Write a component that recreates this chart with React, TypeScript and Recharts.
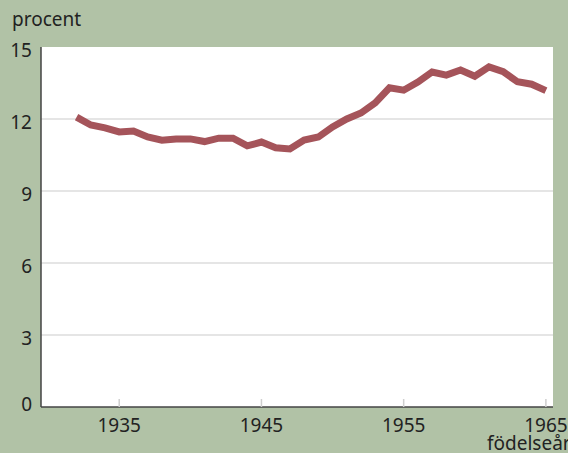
import { LineChart, Line, XAxis, YAxis, CartesianGrid, ReferenceLine } from 'recharts'

const years = [
  1932, 1933, 1934, 1935, 1936, 1937, 1938, 1939, 1940, 1941, 1942, 1943,
  1944, 1945, 1946, 1947, 1948, 1949, 1950, 1951, 1952, 1953, 1954, 1955,
  1956, 1957, 1958, 1959, 1960, 1961, 1962, 1963, 1964, 1965,
]
const procent = [
  12.08, 11.75, 11.63, 11.46, 11.5, 11.25, 11.12, 11.17, 11.17, 11.06, 11.2, 11.2,
  10.88, 11.04, 10.8, 10.75, 11.12, 11.25, 11.67, 12.0, 12.25, 12.67, 13.3, 13.2,
  13.54, 13.96, 13.83, 14.04, 13.78, 14.17, 13.97, 13.55, 13.45, 13.18,
]
const xTicks = [1935, 1945, 1955, 1965]
const yTicks = [0, 3, 6, 9, 12, 15]
const gridValues = [3, 6, 9, 12]

const data = years.map((year, i) => ({ year, value: procent[i] }))

const BG = '#b1c2a6'
const LINE = '#a5545a'
const TEXT = '#222'
const FONT = '"Noto Sans", sans-serif'

function XTick({ x, y, payload }: any) {
  return (
    <g>
      <line x1={x} x2={x} y1={y - 8} y2={y} stroke="#cfcfcf" strokeWidth={1.5} />
      <text x={x} y={y + 25} textAnchor="middle" fill={TEXT} fontSize={19} fontFamily={FONT}>
        {payload.value}
      </text>
    </g>
  )
}

function YTick({ x, y, payload }: any) {
  const dy = payload.value === 0 ? 4 : 9.5
  return (
    <text x={x} y={y + dy} textAnchor="end" fill={TEXT} fontSize={19} fontFamily={FONT}>
      {payload.value}
    </text>
  )
}

export default function App() {
  return (
    <div style={{ position: 'absolute', left: 0, top: 0, width: 568, height: 453, background: BG, overflow: 'hidden', fontFamily: FONT }}>
      <LineChart width={568} height={453} data={data} margin={{ top: 47, right: 15, bottom: 0, left: 0 }}>
        <CartesianGrid horizontal={false} vertical={false} fill="#fff" fillOpacity={1} />
        {gridValues.map(v => (
          <ReferenceLine key={v} y={v} stroke="#dcdcdc" strokeWidth={1.5} />
        ))}
        <XAxis
          dataKey="year"
          type="number"
          domain={[1929.5, 1965.5]}
          ticks={xTicks}
          height={46}
          tickLine={false}
          tickSize={0}
          tickMargin={0}
          tick={<XTick />}
          axisLine={{ stroke: '#444', strokeWidth: 1.5 }}
          allowDataOverflow
        />
        <YAxis
          type="number"
          domain={[0, 15]}
          ticks={yTicks}
          width={41}
          tickLine={false}
          tickSize={0}
          tickMargin={9}
          tick={<YTick />}
          axisLine={{ stroke: '#444', strokeWidth: 1.5 }}
        />
        <Line
          type="linear"
          dataKey="value"
          stroke={LINE}
          strokeWidth={7}
          dot={false}
          isAnimationActive={false}
        />
      </LineChart>
      <div style={{ position: 'absolute', left: 12, top: 6, fontSize: 19, color: TEXT, lineHeight: '26px' }}>procent</div>
      <div style={{ position: 'absolute', left: 487, top: 430, fontSize: 19, color: TEXT, lineHeight: '26px', whiteSpace: 'nowrap' }}>födelseår</div>
    </div>
  )
}
